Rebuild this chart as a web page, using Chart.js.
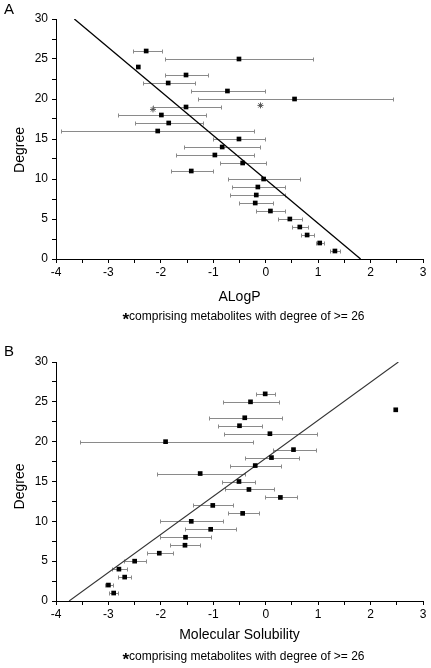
<!DOCTYPE html>
<html>
<head>
<meta charset="utf-8">
<script src="https://cdn.jsdelivr.net/npm/chart.js@4.4.0/dist/chart.umd.min.js"></script>
<style>
  html, body { margin: 0; padding: 0; background: #fff; }
  .panel { position: absolute; left: 0; width: 431px; height: 334px; }
  #panelA { top: 0; }
  #panelB { top: 334px; }
</style>
</head>
<body>
<div class="panel" id="panelA"><canvas id="chartA" width="431" height="334"></canvas></div>
<div class="panel" id="panelB"><canvas id="chartB" width="431" height="334"></canvas></div>
<script>
/* ---------- DATA ---------- */
const DEGREES = [26, 25, 24, 23, 22, 21, 20, 19, 18, 17, 16, 15, 14, 13, 12, 11, 10, 9, 8, 7, 6, 5, 4, 3, 2, 1];

// Panel A: ALogP
const ALOGP_MEAN = [-2.28, -0.51, -2.43, -1.52, -1.86, -0.73, 0.55, -1.52, -1.99, -1.85, -2.06, -0.51, -0.83,
                    -0.97, -0.44, -1.42, -0.04, -0.15, -0.18, -0.20, 0.09, 0.46, 0.65, 0.79, 1.03, 1.32];
const ALOGP_LOW  = [-2.53, -1.93, null, -1.92, -2.35, -1.43, -1.30, -2.15, -2.82, -2.50, -3.90, -1.01, -1.56,
                    -1.72, -0.87, -1.81, -0.72, -0.65, -0.69, -0.51, -0.19, 0.24, 0.50, 0.67, 0.95, 1.22];
const ALOGP_HIGH = [-1.98, 0.91, null, -1.11, -1.34, -0.01, 2.42, -0.86, -1.14, -1.19, -0.22, -0.01, -0.10,
                    -0.22, 0.00, -1.01, 0.65, 0.36, 0.37, 0.13, 0.37, 0.69, 0.81, 0.93, 1.12, 1.42];
const ALOGP_STAR_X = [-2.15, -0.10];
const ALOGP_STAR_Y = [18.7, 19.2];
const ALOGP_FIT_X  = [-3.65, 1.81];
const ALOGP_FIT_Y  = [30, 0];

// Panel B: Molecular Solubility
const SOL_MEAN = [-0.01, -0.29, 2.48, -0.40, -0.50, 0.08, -1.91, 0.53, 0.11, -0.20, -1.25, -0.51, -0.32,
                  0.28, -1.01, -0.44, -1.42, -1.05, -1.53, -1.54, -2.03, -2.50, -2.80, -2.69, -3.00, -2.90];
const SOL_LOW  = [-0.18, -0.81, null, -1.09, -0.91, -0.79, -3.55, 0.13, -0.39, -0.69, -2.08, -0.83, -0.77,
                  -0.02, -1.39, -0.72, -2.01, -1.53, -2.02, -1.82, -2.27, -2.70, -2.94, -2.81, -3.07, -2.99];
const SOL_HIGH = [0.17, 0.25, null, 0.31, -0.07, 0.97, -0.24, 0.95, 0.63, 0.30, -0.39, -0.20, 0.15,
                  0.59, -0.62, -0.13, -0.81, -0.57, -1.04, -1.25, -1.77, -2.28, -2.64, -2.57, -2.91, -2.81];
const SOL_FIT_X = [-3.75, 2.53];
const SOL_FIT_Y = [0, 30];

const X_MIN = -4, X_MAX = 3;
const Y_MIN = 0, Y_MAX = 30;
const NOTE = 'comprising metabolites with degree of >= 26';

const FONT = "'Liberation Sans', Arial, sans-serif";

/* ---------- PLUGINS ---------- */
// horizontal error bars, read from the dataset (xLow / xHigh)
const errorBars = {
  id: 'errorBars',
  beforeDatasetsDraw(chart) {
    const { ctx, scales: { x, y } } = chart;
    const ds = chart.data.datasets.find(d => d.xLow);
    if (!ds) return;
    ctx.save();
    ctx.strokeStyle = '#8a8a8a';
    ctx.lineWidth = 1;
    ds.data.forEach((p, i) => {
      const lo = ds.xLow[i], hi = ds.xHigh[i];
      if (lo == null || hi == null) return;
      const py = Math.round(y.getPixelForValue(p.y)) + 0.5;
      const x0 = Math.round(x.getPixelForValue(lo)) + 0.5;
      const x1 = Math.round(x.getPixelForValue(hi)) + 0.5;
      ctx.beginPath();
      ctx.moveTo(x0, py); ctx.lineTo(x1, py);
      ctx.moveTo(x0, py - 2); ctx.lineTo(x0, py + 2);
      ctx.moveTo(x1, py - 2); ctx.lineTo(x1, py + 2);
      ctx.stroke();
    });
    ctx.restore();
  }
};

// panel letter, axis titles and footnote
const panelText = {
  id: 'panelText',
  afterDraw(chart, args, o) {
    const { ctx, chartArea: a } = chart;
    const cx = (a.left + a.right) / 2;
    ctx.save();
    ctx.fillStyle = '#000';
    ctx.textBaseline = 'middle';

    ctx.font = '15px ' + FONT;
    ctx.textAlign = 'left';
    ctx.fillText(o.letter, 4, o.letterY);

    ctx.font = '14px ' + FONT;
    ctx.textAlign = 'center';
    ctx.fillText(o.xTitle, cx, a.bottom + o.xTitleGap);

    ctx.save();
    ctx.translate(20, (a.top + a.bottom) / 2 + o.yTitleShift);
    ctx.rotate(-Math.PI / 2);
    ctx.fillText('Degree', 0, 0);
    ctx.restore();

    ctx.font = '12px ' + FONT;
    const w = ctx.measureText(NOTE).width;
    ctx.font = 'bold 17px ' + FONT;
    const sw = ctx.measureText('*').width;
    const left = cx + 4 - (w + sw) / 2;
    const ny = a.bottom + o.noteGap;
    ctx.textAlign = 'left';
    ctx.fillText('*', left, ny + 3);
    ctx.font = '12px ' + FONT;
    ctx.fillText(NOTE, left + sw, ny);
    ctx.restore();
  }
};

/* ---------- BUILD ---------- */
function toPoints(xs, ys) {
  return xs.map((v, i) => ({ x: v, y: ys[i] }));
}

function makeChart(el, cfg) {
  return new Chart(el, {
    type: 'scatter',
    data: {
      datasets: [
        {
          label: 'fit',
          type: 'line',
          data: toPoints(cfg.fitX, cfg.fitY),
          borderColor: cfg.fitColor,
          borderWidth: cfg.fitWidth,
          pointRadius: 0,
          fill: false,
          order: 2
        },
        {
          label: 'mean',
          data: toPoints(cfg.mean, DEGREES),
          xLow: cfg.low,
          xHigh: cfg.high,
          pointStyle: 'rect',
          pointRadius: 3.3,
          backgroundColor: '#000',
          borderColor: '#000',
          borderWidth: 0,
          order: 1
        },
        {
          label: 'stars',
          data: toPoints(cfg.starX || [], cfg.starY || []),
          pointStyle: 'star',
          pointRadius: 3,
          borderColor: '#555',
          borderWidth: 1,
          order: 0
        }
      ]
    },
    options: {
      responsive: false,
      animation: false,
      events: [],
      layout: { padding: { top: cfg.top, right: 8, left: 0, bottom: 0 } },
      plugins: {
        legend: { display: false },
        tooltip: { enabled: false },
        panelText: cfg.text
      },
      scales: {
        x: {
          type: 'linear',
          min: X_MIN, max: X_MAX,
          afterFit: s => { s.height = cfg.xHeight; },
          border: { display: true, color: '#000', width: 1 },
          grid: { drawOnChartArea: false, drawTicks: true, tickLength: 4, color: '#000' },
          ticks: {
            stepSize: 0.5, autoSkip: false, maxRotation: 0, padding: 2,
            color: '#000', font: { family: FONT, size: 12 },
            callback: v => Number.isInteger(v) ? String(v) : ''
          }
        },
        y: {
          type: 'linear',
          min: Y_MIN, max: Y_MAX,
          afterFit: s => { s.width = 56; },
          border: { display: true, color: '#000', width: 1 },
          grid: { drawOnChartArea: false, drawTicks: true, tickLength: 4, color: '#000' },
          ticks: {
            stepSize: 2.5, autoSkip: false, padding: 4,
            color: '#000', font: { family: FONT, size: 12 },
            callback: v => v % 5 === 0 ? String(v) : ''
          }
        }
      }
    },
    plugins: [errorBars, panelText]
  });
}

makeChart(document.getElementById('chartA'), {
  mean: ALOGP_MEAN, low: ALOGP_LOW, high: ALOGP_HIGH,
  starX: ALOGP_STAR_X, starY: ALOGP_STAR_Y,
  fitX: ALOGP_FIT_X, fitY: ALOGP_FIT_Y, fitColor: '#000', fitWidth: 1.3,
  top: 19, xHeight: 75,
  text: { letter: 'A', letterY: 10, xTitle: 'ALogP', xTitleGap: 38, noteGap: 58, yTitleShift: 11 }
});

makeChart(document.getElementById('chartB'), {
  mean: SOL_MEAN, low: SOL_LOW, high: SOL_HIGH,
  fitX: SOL_FIT_X, fitY: SOL_FIT_Y, fitColor: '#333', fitWidth: 1.1,
  top: 28, xHeight: 67,
  text: { letter: 'B', letterY: 18, xTitle: 'Molecular Solubility', xTitleGap: 34, noteGap: 56, yTitleShift: 5 }
});
</script>
</body>
</html>
